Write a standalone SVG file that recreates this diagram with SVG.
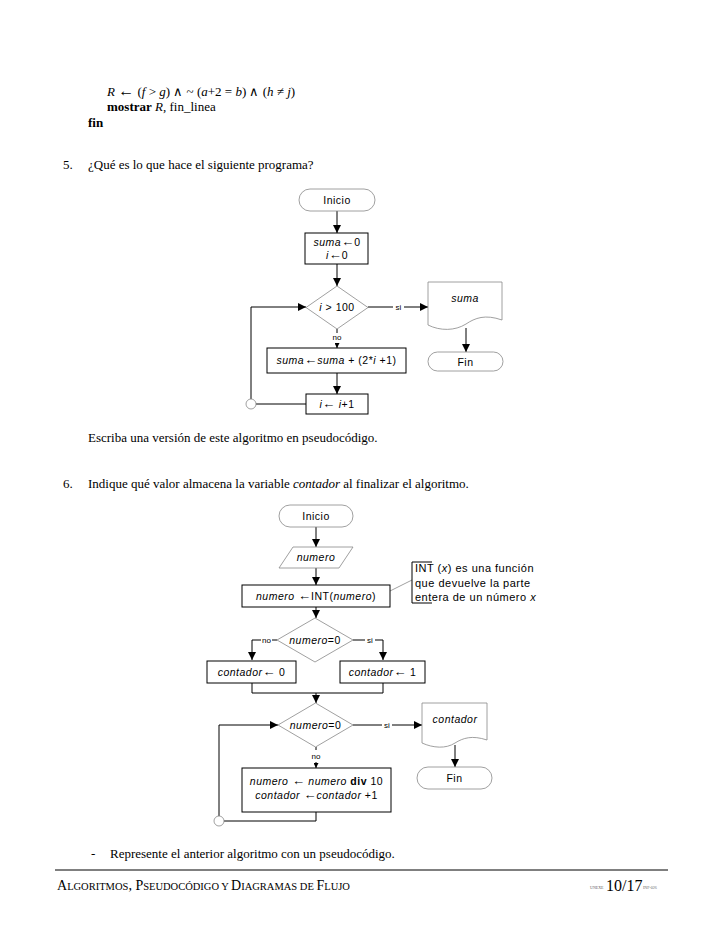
<svg xmlns="http://www.w3.org/2000/svg" width="728" height="942" viewBox="0 0 728 942">
<defs>
<marker id="ah" viewBox="0 0 10 10" refX="10" refY="5" markerWidth="8" markerHeight="8" markerUnits="userSpaceOnUse" orient="auto">
<path d="M0,0 L10,5 L0,10 z" fill="#000"/>
</marker>
<marker id="ahs" viewBox="0 0 10 10" refX="10" refY="5" markerWidth="5" markerHeight="5" markerUnits="userSpaceOnUse" orient="auto">
<path d="M0,0 L10,5 L0,10 z" fill="#000"/>
</marker>
<style>
.doc{font-family:"Liberation Serif","Times New Roman",serif;font-size:13px;fill:#000}
.fc{font-family:"Liberation Sans",Arial,sans-serif;font-size:10.5px;letter-spacing:0.5px;fill:#000;text-anchor:middle}
.lbl{font-family:"Liberation Sans",Arial,sans-serif;font-size:8px;fill:#000;text-anchor:middle}
.ann{font-family:"Liberation Sans",Arial,sans-serif;font-size:11px;letter-spacing:0.5px;fill:#000}
.box{fill:#fff;stroke:#000;stroke-width:1}
.gr{fill:#fff;stroke:#888;stroke-width:0.8}
.cn{fill:none;stroke:#000;stroke-width:1}
.it{font-style:italic}
.ar{font-size:13px;font-style:normal;letter-spacing:0}
</style>
</defs>
<rect width="728" height="942" fill="#fff"/>

<!-- page text -->
<text class="doc" x="107" y="96"><tspan class="it">R</tspan> <tspan font-weight="bold" style="font-size:16px">←</tspan> (<tspan class="it">f</tspan>  &gt; <tspan class="it">g</tspan>) ∧ ~ (<tspan class="it">a</tspan>+2 = <tspan class="it">b</tspan>) ∧ (<tspan class="it">h</tspan> ≠ <tspan class="it">j</tspan>)</text>
<text class="doc" x="107" y="111"><tspan font-weight="bold">mostrar</tspan> <tspan class="it">R</tspan>, fin_linea</text>
<text class="doc" x="88" y="127" font-weight="bold">fin</text>
<text class="doc" x="63" y="169">5.</text>
<text class="doc" x="88" y="169">¿Qué es lo que hace el siguiente programa?</text>
<text class="doc" x="88" y="442">Escriba una versión de este algoritmo en pseudocódigo.</text>
<text class="doc" x="63" y="488">6.</text>
<text class="doc" x="88" y="488">Indique qué valor almacena la variable <tspan class="it">contador</tspan> al finalizar el algoritmo.</text>
<text class="doc" x="91" y="858">-</text>
<text class="doc" x="110" y="858">Represente el anterior algoritmo con un pseudocódigo.</text>
<line x1="55" y1="870" x2="668" y2="870" stroke="#000" stroke-width="1"/>
<text class="doc" x="57" y="890" style="font-size:14px">A<tspan style="font-size:10.5px">LGORITMOS</tspan>, P<tspan style="font-size:10.5px">SEUDOCÓDIGO Y </tspan>D<tspan style="font-size:10.5px">IAGRAMAS DE </tspan>F<tspan style="font-size:10.5px">LUJO</tspan></text>
<text class="doc" x="590" y="889" style="font-size:4px;fill:#666">UNEXE</text>
<text class="doc" x="606" y="891" style="font-size:16px">10/17</text>
<text class="doc" x="643" y="889" style="font-size:4px;fill:#666">INF-026</text>

<!-- Flowchart 1 connectors -->
<g id="connectors1">
<line class="cn" x1="337" y1="211" x2="337" y2="233" marker-end="url(#ah)"/>
<line class="cn" x1="337" y1="264" x2="337" y2="286" marker-end="url(#ah)"/>
<line class="cn" x1="337" y1="329" x2="337" y2="333"/>
<line class="cn" x1="337" y1="343" x2="337" y2="348" marker-end="url(#ahs)"/>
<line class="cn" x1="337" y1="373" x2="337" y2="394" marker-end="url(#ah)"/>
<line class="cn" x1="306" y1="404" x2="256" y2="404"/>
<polyline class="cn" points="251,399 251,307 306,307" marker-end="url(#ah)"/>
<line class="cn" x1="368" y1="307" x2="393" y2="307"/>
<line class="cn" x1="404" y1="307" x2="428" y2="307" marker-end="url(#ah)"/>
<line class="cn" x1="466" y1="328" x2="466" y2="352" marker-end="url(#ah)"/>
<text class="lbl" x="398.5" y="310">si</text>
<text class="lbl" x="337" y="340">no</text>
</g>

<g id="n1-inicio"><rect class="gr" x="299" y="189" width="76" height="22" rx="11"/><text class="fc" x="337" y="204">Inicio</text></g>
<g id="n1-init"><rect class="box" x="305" y="233" width="63" height="31"/><text class="fc" x="337" y="246"><tspan class="it">suma</tspan><tspan class="ar">←</tspan>0</text><text class="fc" x="337" y="259"><tspan class="it">i</tspan><tspan class="ar">←</tspan>0</text></g>
<g id="n1-cond"><polygon class="gr" points="337,286 368,307.5 337,329 306,307.5"/><text class="fc" x="337" y="311"><tspan class="it">i</tspan> &gt; 100</text></g>
<g id="n1-sum"><rect class="box" x="267" y="348" width="139" height="25"/><text class="fc" x="336.5" y="364"><tspan class="it">suma</tspan><tspan class="ar">←</tspan><tspan class="it">suma</tspan> + (2*<tspan class="it">i</tspan> +1)</text></g>
<g id="n1-inc"><rect class="box" x="306" y="394" width="62" height="20"/><text class="fc" x="337" y="408"><tspan class="it">i</tspan><tspan class="ar">←</tspan> <tspan class="it">i</tspan>+1</text></g>
<g id="n1-circle"><circle class="gr" cx="251" cy="404" r="5"/></g>
<g id="n1-out"><path class="gr" d="M428,282 L502,282 L502,320 C485,314 475,318 466,324 C455,331 440,331 428,325 Z"/><text class="fc it" x="465" y="302">suma</text></g>
<g id="n1-fin"><rect class="gr" x="428" y="352" width="75" height="19" rx="9.5"/><text class="fc" x="465.5" y="365.5">Fin</text></g>

<!-- Flowchart 2 connectors -->
<g id="connectors2">
<line class="cn" x1="316" y1="527" x2="316" y2="547" marker-end="url(#ah)"/>
<line class="cn" x1="316" y1="568" x2="316" y2="585" marker-end="url(#ah)"/>
<line class="cn" x1="316" y1="607" x2="316" y2="618" marker-end="url(#ah)"/>
<line x1="390" y1="591" x2="412" y2="580" stroke="#888" stroke-width="0.8"/>
<polyline class="cn" points="277,640 272,640"/>
<polyline class="cn" points="261,640 252,640 252,660" marker-end="url(#ah)"/>
<polyline class="cn" points="353,640 365,640"/>
<polyline class="cn" points="375,640 383,640 383,660" marker-end="url(#ah)"/>
<text class="lbl" x="266.5" y="643">no</text>
<text class="lbl" x="370" y="643">si</text>
<polyline class="cn" points="252,683 252,693 383,693 383,683"/>
<line class="cn" x1="316" y1="693" x2="316" y2="703" marker-end="url(#ah)"/>
<line class="cn" x1="353" y1="725" x2="382" y2="725"/>
<line class="cn" x1="392" y1="725" x2="422" y2="725" marker-end="url(#ah)"/>
<text class="lbl" x="387" y="728">si</text>
<line class="cn" x1="316" y1="747" x2="316" y2="750"/>
<line class="cn" x1="316" y1="762" x2="316" y2="768" marker-end="url(#ahs)"/>
<text class="lbl" x="316" y="759">no</text>
<line class="cn" x1="455" y1="745" x2="455" y2="767" marker-end="url(#ah)"/>
<polyline class="cn" points="316,812 316,821 224,821"/>
<polyline class="cn" points="219,816 219,725 278,725" marker-end="url(#ah)"/>
</g>

<g id="n2-inicio"><rect class="gr" x="279" y="505" width="74" height="22" rx="11"/><text class="fc" x="316" y="520">Inicio</text></g>
<g id="n2-read"><polygon class="gr" points="293,547 353,547 339,568 279,568"/><text class="fc it" x="316" y="561">numero</text></g>
<g id="n2-int"><rect class="box" x="242" y="585" width="148" height="22"/><text class="fc" x="316" y="600"><tspan class="it">numero</tspan> <tspan class="ar">←</tspan>INT(<tspan class="it">numero</tspan>)</text></g>
<g id="n2-note"><polyline class="cn" points="432,562 412,562 412,603 432,603"/>
<text class="ann" x="415" y="572">INT (<tspan class="it">x</tspan>) es una función</text>
<text class="ann" x="415" y="587">que devuelve la parte</text>
<text class="ann" x="415" y="601">entera de un número <tspan class="it">x</tspan></text></g>
<g id="n2-cond1"><polygon class="gr" points="315,618 353,640 315,662 277,640"/><text class="fc" x="315" y="643.5"><tspan class="it">numero</tspan>=0</text></g>
<g id="n2-c0"><rect class="box" x="207" y="661" width="89" height="22"/><text class="fc" x="251.5" y="676"><tspan class="it">contador</tspan><tspan class="ar">←</tspan> 0</text></g>
<g id="n2-c1"><rect class="box" x="340" y="661" width="85" height="22"/><text class="fc" x="382.5" y="676"><tspan class="it">contador</tspan><tspan class="ar">←</tspan> 1</text></g>
<g id="n2-cond2"><polygon class="gr" points="315.5,703 353,725 315.5,747 278,725"/><text class="fc" x="315.5" y="729"><tspan class="it">numero</tspan>=0</text></g>
<g id="n2-body"><rect class="box" x="242" y="768" width="149" height="44"/><text class="fc" x="316.5" y="785"><tspan class="it">numero</tspan> <tspan class="ar">←</tspan> <tspan class="it">numero</tspan> <tspan font-weight="bold">div</tspan> 10</text><text class="fc" x="316.5" y="799"><tspan class="it">contador</tspan> <tspan class="ar">←</tspan><tspan class="it">contador</tspan> +1</text></g>
<g id="n2-circle"><circle class="gr" cx="219" cy="821" r="5"/></g>
<g id="n2-out"><path class="gr" d="M422,703 L487,703 L487,740 C472,735 463,738 455,743 C446,749 433,748 422,743 Z"/><text class="fc it" x="455" y="723">contador</text></g>
<g id="n2-fin"><rect class="gr" x="417" y="767" width="75" height="22" rx="11"/><text class="fc" x="454.5" y="782">Fin</text></g>
</svg>
